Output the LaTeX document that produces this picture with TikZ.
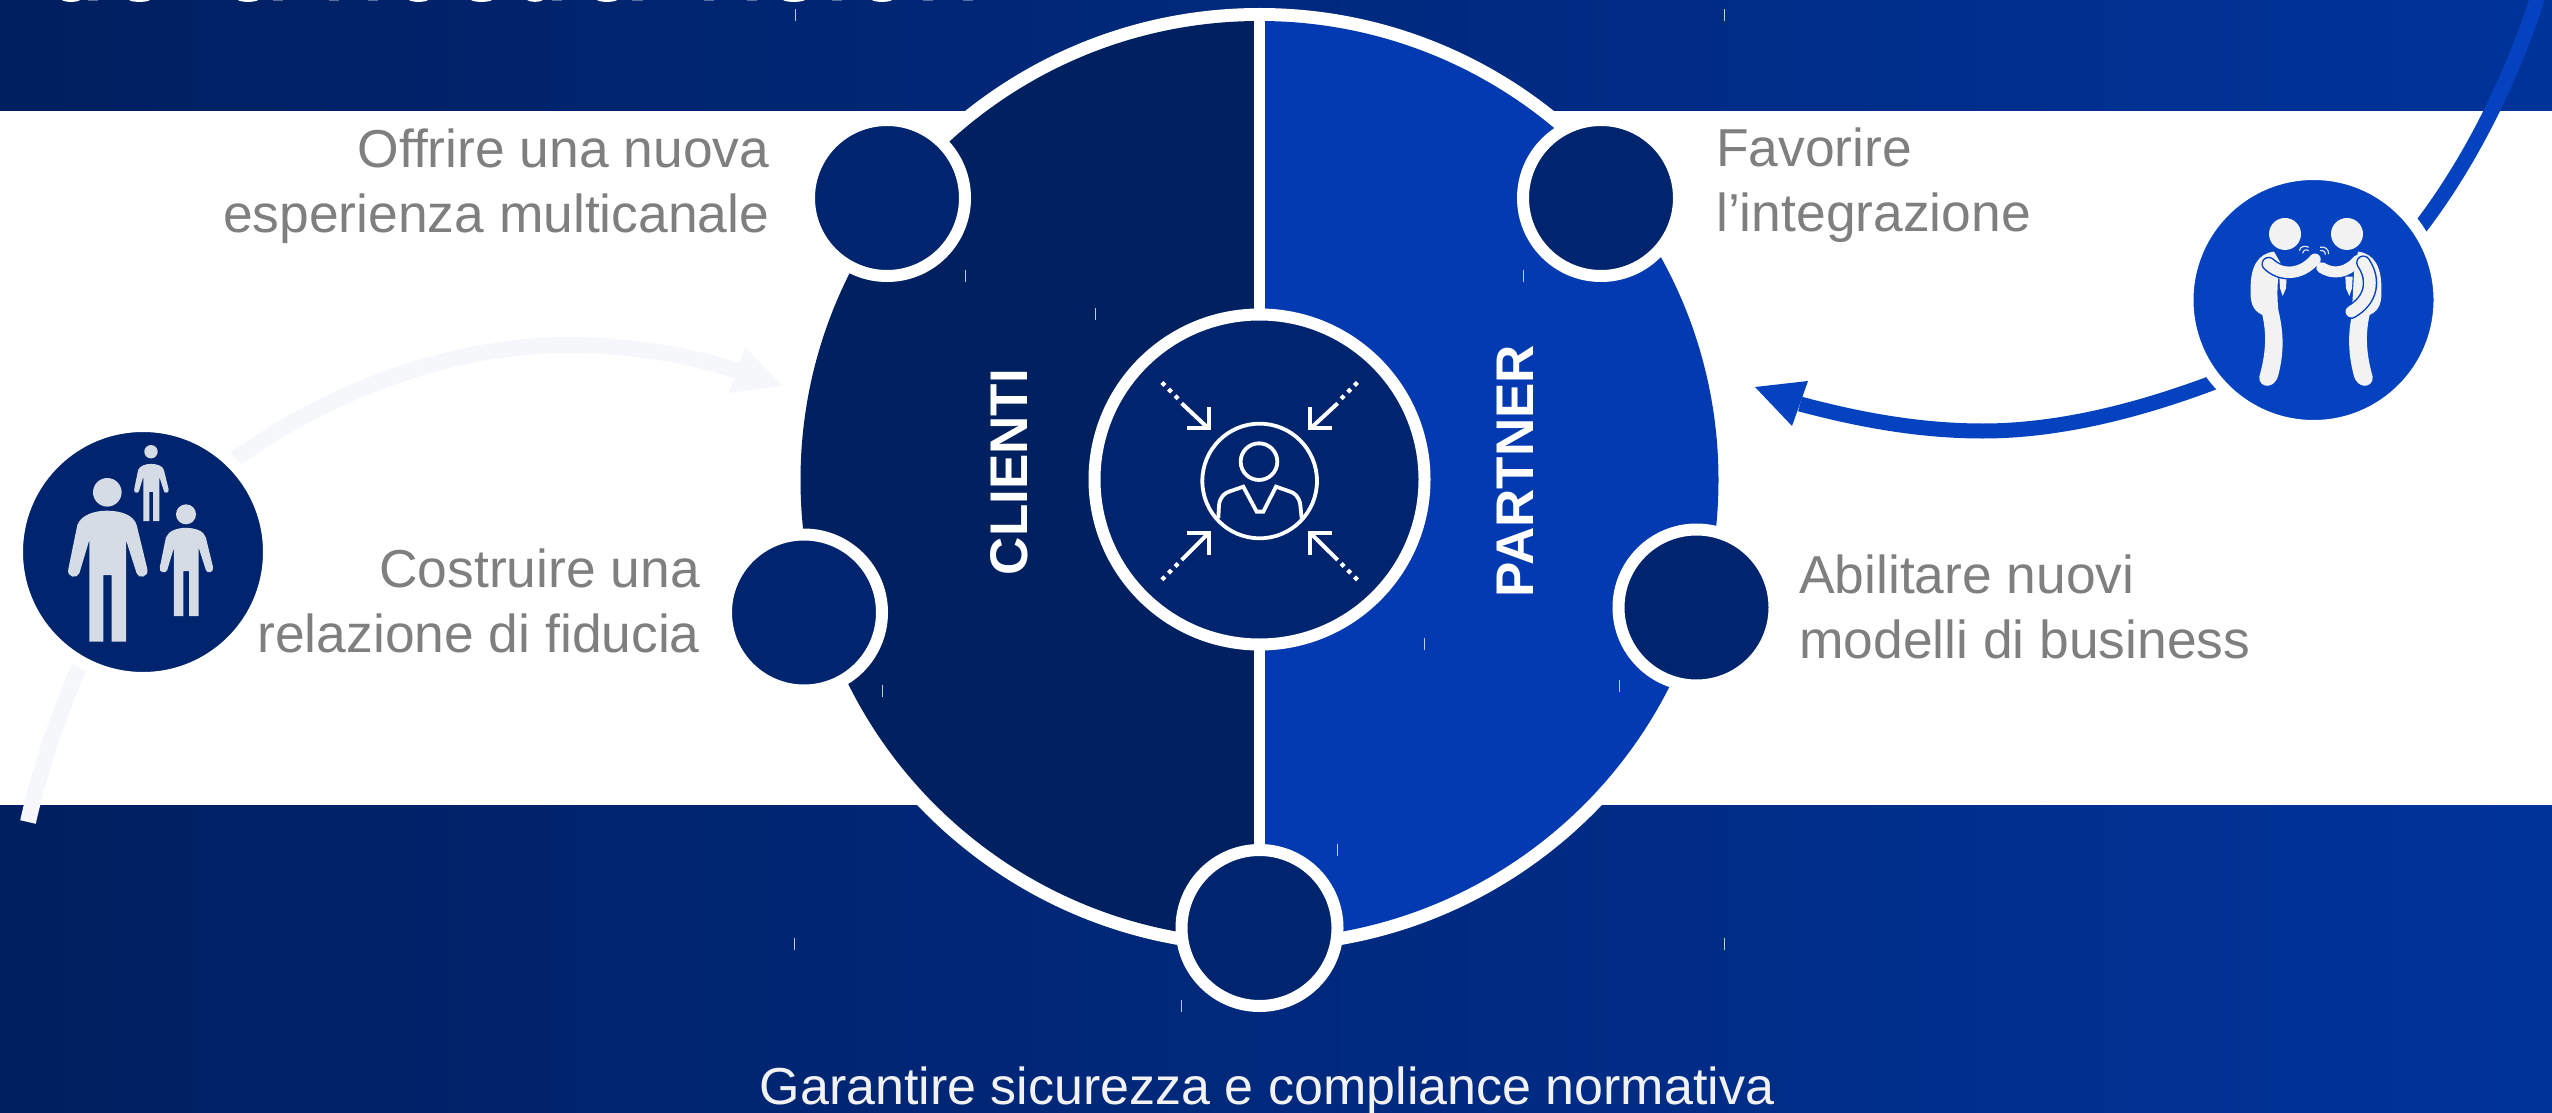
\documentclass[tikz,border=0pt]{standalone}
\usepackage{fontspec}
\setmainfont{Liberation Sans}
\definecolor{bandL}{HTML}{001F60}
\definecolor{bandR}{HTML}{00339A}
\definecolor{navy}{HTML}{00256E}
\definecolor{halfL}{HTML}{002060}
\definecolor{halfR}{HTML}{033AB1}
\definecolor{royal}{HTML}{0442BF}
\definecolor{pale}{HTML}{F5F7FB}
\definecolor{capt}{HTML}{7F7F7F}
\definecolor{figL}{HTML}{D6DCE5}
\definecolor{figR}{HTML}{F2F2F2}
\tikzset{
  band/.style={left color=bandL,right color=bandR,shading angle=90},
  dot/.style={circle,fill=navy,draw=white,line width=12pt,minimum size=156pt,inner sep=0pt},
  badge/.style={circle,draw=white,line width=12pt,minimum size=252pt,inner sep=0pt},
  capnode/.style={text=capt,inner sep=0pt,font=\fontsize{53.4}{65}\selectfont},
  vert/.style={text=white,inner sep=0pt,font=\bfseries\fontsize{53}{60}\selectfont,rotate=90},
  tick/.style={draw=white,line width=1pt,opacity=.75},
  icon/.style={draw=white,line width=3.8pt},
  iconarrow/.style={draw=white,line width=4pt,line cap=butt},
  squarerot/.style={fill=white},
}
\newcommand{\manshape}{%
  (-55,0) -- (-55,-305) -- (-85,-205) .. controls (-92,-188) and (-124,-192) .. (-118,-218)
  -- (-91,-350) .. controls (-80,-380) and (-40,-393) .. (-3,-393) .. controls (40,-393) and (78,-380) .. (87,-350)
  -- (119,-218) .. controls (124,-192) and (92,-188) .. (87,-205) -- (55,-305) -- (55,0) -- (12,0) -- (12,-200) -- (-13,-200) -- (-13,0) -- cycle}
\newcommand{\dotmark}[2]{\fill[squarerot] (#1-9,#2) -- (#1,#2-9) -- (#1+9,#2) -- (#1,#2+9) -- cycle;}
\begin{document}
\begin{tikzpicture}[x=1pt,y=-1pt]
\useasboundingbox (0,0) rectangle (2552,1113);
\shade[band] (0,0) rectangle (2552,111);
\shade[band] (0,805) rectangle (2552,1113);
% bottoms of a cropped title line
\foreach \a/\b in {62/80,129/150,238/258,409/428,471/492,527/543,597/617,783/805,872/892}
  \fill[white] (\a,0) .. controls (\a+3,2.5) and (\b-3,2.5) .. (\b,0) -- cycle;
\foreach \a/\b in {88/98,273/283,329/339,368/378,552/562,632/643,704/714,747/757,832/842,923/933,963/973}
  \fill[white,opacity=.35] (\a,0) rectangle (\b,1.5);
\fill[white] (1259.5,480) circle[radius=472];
\begin{scope}
  \clip (0,0) rectangle (1259.5,1113);
  \fill[halfL] (1259.5,480) circle[radius=459];
\end{scope}
\begin{scope}
  \clip (1259.5,0) rectangle (2552,1113);
  \fill[halfR] (1259.5,480) circle[radius=459];
\end{scope}
\coordinate (divT) at (1259.5,21);
\coordinate (divB) at (1259.5,856);
\draw[white,line width=11pt] (divT) -- (divB);
\node[circle,fill=navy,draw=white,line width=12pt,minimum size=330pt,inner sep=0pt] (core) at (1259.5,479.5) {};
\node[dot] (d1) at (887,198) {};
\node[dot] (d2) at (1601,198) {};
\node[dot] (d3) at (804,612.5) {};
\node[dot] (d4) at (1696.5,607.5) {};
\node[dot] (d5) at (1259.5,928) {};
% left curve
\coordinate (lA) at (28,822);
\coordinate (lB) at (238,457);
\coordinate (lC) at (568,345);
\coordinate (lD) at (738,371);
\draw[pale,line width=16pt] (lA) .. controls (60,680) and (136,526) .. (lB) .. controls (340,385) and (460,345) .. (lC) .. controls (630,345) and (690,355) .. (lD);
\fill[pale] (783,386) -- (745,347) -- (729,393) -- cycle;
\node[badge,fill=navy] (people) at (143,552) {};
% right curve
\coordinate (rA) at (2540,-10);
\coordinate (rB) at (2422,225);
\coordinate (rC) at (2212,383);
\coordinate (rD) at (1983,431);
\coordinate (rE) at (1800,404);
\draw[royal,line width=15pt] (rA) .. controls (2515,70) and (2475,155) .. (rB) .. controls (2375,287) and (2290,353) .. (rC) .. controls (2140,410) and (2060,431) .. (rD) .. controls (1920,431) and (1860,420) .. (rE);
\fill[royal] (1755,387) -- (1808,381) -- (1792,426) -- cycle;
\node[badge,fill=royal] (shake) at (2313.5,300) {};
% people figures
\begin{scope}[shift={(107.67,641.67)},x=.3333pt,y=-.3333pt]
  \fill[figL] \manshape;
\end{scope}
\fill[figL] (107.3,492.3) circle[radius=14.3];
\begin{scope}[shift={(186.33,616)},x=.2243pt,y=-.2243pt]
  \fill[figL] \manshape;
\end{scope}
\fill[figL] (186,514.3) circle[radius=10];
\begin{scope}[shift={(151.33,521)},x=.1453pt,y=-.1453pt]
  \fill[figL] \manshape;
\end{scope}
\fill[figL] (151,451.7) circle[radius=6.7];
% handshake figures
\begin{scope}[shift={(2150,0)},x=.3333pt,y=-.3333pt]
  \fill[figR] (405,702) circle[radius=48];
  \fill[figR] (591,702) circle[radius=48];
  % left torso and leg
  \fill[figR] (372,755) .. controls (325,760) and (302,800) .. (302,860) .. controls (300,905) and (305,930) .. (337,945)
    .. controls (352,1010) and (345,1070) .. (328,1130) .. controls (325,1165) and (375,1170) .. (385,1125)
    .. controls (402,1060) and (402,1000) .. (385,930) .. controls (380,880) and (382,830) .. (392,790) -- cycle;
  % right torso and leg
  \fill[figR] (624,755) .. controls (671,760) and (694,800) .. (694,860) .. controls (696,905) and (691,930) .. (659,945)
    .. controls (644,1010) and (651,1070) .. (668,1130) .. controls (671,1165) and (621,1170) .. (611,1125)
    .. controls (594,1060) and (594,1000) .. (605,950) -- (612,820) -- cycle;
  % ties
  \fill[figR] (388,830) -- (410,830) -- (408,865) -- (398,888) -- (390,865) -- cycle;
  \fill[figR] (608,830) -- (586,830) -- (588,865) -- (598,888) -- (606,865) -- cycle;
  % arms
  \draw[royal,line width=14.5pt,line cap=round] (356,792) .. controls (390,825) and (450,830) .. (495,778);
  \draw[figR,line width=11.5pt,line cap=round] (356,792) .. controls (390,825) and (450,830) .. (495,778);
  \draw[figR,line width=11pt,line cap=round] (515,803) .. controls (550,825) and (590,820) .. (625,780);
  \draw[royal,line width=14.5pt,line cap=round] (640,788) .. controls (675,840) and (665,900) .. (604,935);
  \draw[figR,line width=11.5pt,line cap=round] (640,788) .. controls (675,840) and (665,900) .. (604,935);
  % waves
  \draw[figR,line width=1.1pt] (448,752) .. controls (450,740) and (465,735) .. (476,742);
  \draw[figR,line width=1.1pt] (458,760) .. controls (460,750) and (468,747) .. (476,752);
  \draw[figR,line width=1.1pt] (536,762) .. controls (536,748) and (525,738) .. (510,742);
  \draw[figR,line width=1.1pt] (526,764) .. controls (526,755) and (520,750) .. (510,752);
\end{scope}
% center icon
\begin{scope}[shift={(1080,300)},x=.3333pt,y=-.3333pt]
  \draw[icon] (539,543) circle[radius=172];
  \draw[icon] (537,485) circle[radius=55];
  \draw[icon] (415,655) -- (417,615) .. controls (420,590) and (435,578) .. (450,574) -- (490,560) -- (530,635) -- (550,635) -- (588,560) -- (628,574) .. controls (643,578) and (658,590) .. (661,615) -- (665,655);
  \draw[iconarrow] (305,310) -- (385,385);
  \draw[iconarrow] (322,385) -- (388,385) -- (388,322);
  \draw[iconarrow] (773,310) -- (692,385);
  \draw[iconarrow] (756,385) -- (690,385) -- (690,322);
  \draw[iconarrow] (305,780) -- (385,700);
  \draw[iconarrow] (322,700) -- (388,700) -- (388,765);
  \draw[iconarrow] (773,780) -- (692,700);
  \draw[iconarrow] (756,700) -- (690,700) -- (690,765);
  \foreach \p/\q in {250/252,270/272,290/292,828/252,808/272,788/292,250/835,270/815,290/795,828/835,808/815,788/795}
    {\dotmark{\p}{\q}}
\end{scope}
\foreach \x/\a/\b in {795/9/21,1724.5/9/21,965.5/270/282,1523.6/270/282,1095/308/320,1424/638/650,882.4/685/697,1619/680/692,1337.7/844/856,794.7/938/950,1724/938/950,1181/1000/1012}
  \draw[tick] (\x,\a) -- (\x,\b);
\node[capnode,align=right,anchor=base east] (t1) at (769.5,232) {Offrire una nuova\\esperienza multicanale};
\node[capnode,align=right,anchor=base east] (t2) at (700,652) {Costruire una\\relazione di fiducia};
\node[capnode,align=left,anchor=base west] (t3) at (1716,231) {Favorire\\l’integrazione};
\node[capnode,align=left,anchor=base west] (t4) at (1799,658) {Abilitare nuovi\\modelli di business};
\node[vert] (cl) at (1009,472) {CLIENTI};
\node[vert] (pa) at (1515,471) {PARTNER};
\node[inner sep=0pt,text=figR,font=\fontsize{52}{60}\selectfont,anchor=base] (g) at (1267,1104) {Garantire sicurezza e compliance normativa};
\end{tikzpicture}
\end{document}
